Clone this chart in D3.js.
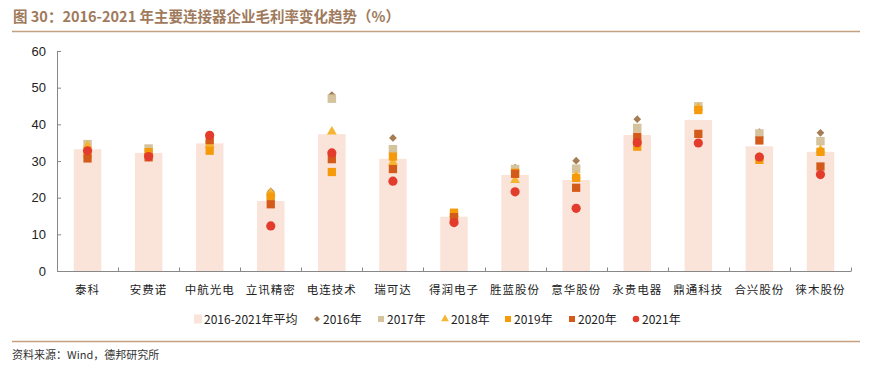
<!DOCTYPE html>
<html>
<head>
<meta charset="utf-8">
<script src="https://cdn.jsdelivr.net/npm/d3@7/dist/d3.min.js"></script>
<style>
  body { margin: 0; background: #fff; }
  text { font-family: "Liberation Sans", Arial, "Noto Sans CJK SC", sans-serif; }
  .cn { font-family: "Noto Sans CJK SC", sans-serif; }
</style>
</head>
<body>
<script>
//data
var companies = ["泰科", "安费诺", "中航光电", "立讯精密", "电连技术", "瑞可达", "得润电子",
                 "胜蓝股份", "意华股份", "永贵电器", "鼎通科技", "合兴股份", "徕木股份"];
var avg   = [33.2, 32.2, 34.8, 19.1, 37.3, 30.6, 14.8, 26.2, 24.8, 37.1, 41.2, 34.0, 32.5];
var y2016 = [34.0, 33.0, 35.5, 21.7, 48.0, 36.3, 15.0, 28.2, 30.1, 41.4, 44.6, 37.9, 37.7];
var y2017 = [34.6, 33.4, 34.6, 20.5, 47.0, 33.2, 15.3, 27.8, 27.9, 39.0, 44.9, 37.5, 35.4];
var y2018 = [34.2, 32.3, 34.5, 21.3, 38.0, 29.6, 15.5, 24.8, 26.0, 36.0, 44.5, 31.0, 33.0];
var y2019 = [32.0, 32.4, 32.8, 20.3, 27.0, 31.2, 15.9, 26.8, 25.4, 33.9, 43.9, 30.3, 32.5];
var y2020 = [30.7, 31.0, 35.7, 18.2, 30.5, 27.8, 14.7, 26.5, 22.7, 36.6, 37.4, 35.6, 28.5];
var y2021 = [32.8, 31.2, 37.0, 12.3, 32.2, 24.5, 13.2, 21.6, 17.1, 35.0, 34.9, 31.1, 26.3];
var yTicks = [0, 10, 20, 30, 40, 50, 60];

var W = 894, H = 375;
var plotL = 57, plotR = 851, plotT = 51, plotB = 271;

var svg = d3.select("body").append("svg")
    .attr("width", W)
    .attr("height", H);

//title and rules
svg.append("text")
    .attr("class", "cn")
    .attr("x", 13)
    .attr("y", 22)
    .style("font-size", "14.5px")
    .style("font-weight", "bold")
    .style("fill", "#A07A5C")
    .text("图 30：2016-2021 年主要连接器企业毛利率变化趋势（%）");

svg.append("line")
    .attr("x1", 12).attr("x2", 860)
    .attr("y1", 31.5).attr("y2", 31.5)
    .style("stroke", "#C4A081")
    .style("stroke-width", 1.5);

svg.append("line")
    .attr("x1", 12).attr("x2", 860)
    .attr("y1", 341.5).attr("y2", 341.5)
    .style("stroke", "#C4A081")
    .style("stroke-width", 1.5);

svg.append("text")
    .attr("class", "cn")
    .attr("x", 12)
    .attr("y", 359)
    .style("font-size", "11px")
    .style("fill", "#333")
    .text("资料来源：Wind，德邦研究所");

//scales
var x = d3.scaleBand()
    .domain(companies)
    .range([plotL, plotR])
    .padding(0);

var y = d3.scaleLinear()
    .domain([0, 60])
    .range([plotB, plotT]);

var barW = x.bandwidth() * 0.45;
function cx(i){ return x(companies[i]) + x.bandwidth() / 2; }

//average bars
svg.selectAll(".bar")
    .data(avg)
    .enter()
    .append("rect")
    .attr("class", "bar")
    .attr("x", function(d, i){ return cx(i) - barW / 2; })
    .attr("y", function(d){ return y(d); })
    .attr("width", barW)
    .attr("height", function(d){ return y(0) - y(d); })
    .style("fill", "#FAE3D8");

//axes
var yAxis = d3.axisLeft(y)
    .tickValues(yTicks)
    .tickSize(-4)
    .tickPadding(11);

var gy = svg.append("g")
    .attr("transform", "translate(" + plotL + ",0)")
    .call(yAxis);
gy.selectAll("text").style("font-size", "13px").style("fill", "#222")
    .style("font-family", "'Liberation Sans', Arial, sans-serif");
gy.selectAll("line").style("stroke", "#888");
gy.select(".domain").style("stroke", "#888");

//x axis line and boundary ticks
var bounds = companies.map(function(c){ return x(c); }).concat([plotR]);
svg.append("line")
    .attr("x1", plotL).attr("x2", plotR)
    .attr("y1", plotB + 0.5).attr("y2", plotB + 0.5)
    .style("stroke", "#888");
svg.selectAll(".xtick")
    .data(bounds.slice(1))
    .enter()
    .append("line")
    .attr("x1", function(d){ return Math.round(d) + 0.5; })
    .attr("x2", function(d){ return Math.round(d) + 0.5; })
    .attr("y1", plotB + 0.5)
    .attr("y2", plotB - 3.5)
    .style("stroke", "#888");

svg.selectAll(".xlab")
    .data(companies)
    .enter()
    .append("text")
    .attr("class", "cn")
    .attr("x", function(d, i){ return cx(i); })
    .attr("y", 294)
    .attr("text-anchor", "middle")
    .style("font-size", "11.5px")
    .style("letter-spacing", "1px")
    .style("fill", "#222")
    .text(function(d){ return d; });

//series markers (diamond = square turned 45 degrees)
var series = [
    {name: "2016年", vals: y2016, shape: d3.symbolSquare, size: 30, rot: 45, color: "#A67C52"},
    {name: "2017年", vals: y2017, shape: d3.symbolSquare, size: 72, rot: 0, color: "#D5C39E"},
    {name: "2018年", vals: y2018, shape: d3.symbolTriangle, size: 42, rot: 0, color: "#F5B431"},
    {name: "2019年", vals: y2019, shape: d3.symbolSquare, size: 68, rot: 0, color: "#F59A0A"},
    {name: "2020年", vals: y2020, shape: d3.symbolSquare, size: 68, rot: 0, color: "#D45A1A"},
    {name: "2021年", vals: y2021, shape: d3.symbolCircle, size: 66, rot: 0, color: "#E33B2C"}
];

series.forEach(function(s){
    var sym = d3.symbol().type(s.shape).size(s.size);
    svg.selectAll(null)
        .data(s.vals)
        .enter()
        .append("path")
        .attr("d", sym)
        .attr("transform", function(d, i){
            return "translate(" + cx(i) + "," + y(d) + ") rotate(" + s.rot + ")";
        })
        .style("fill", s.color);
});

//legend
var legY = 319;
var leg = svg.append("g");
leg.append("rect")
    .attr("x", 194).attr("y", legY - 4.5)
    .attr("width", 8).attr("height", 9)
    .style("fill", "#FAE3D8");
leg.append("text")
    .attr("class", "cn")
    .attr("x", 204).attr("y", legY + 4.5)
    .style("font-size", "12px")
    .style("fill", "#222")
    .text("2016-2021年平均");

var legX = [317, 381, 445, 508, 572, 636];
var legSize = [18, 36, 26, 36, 36, 34];
series.forEach(function(s, i){
    leg.append("path")
        .attr("d", d3.symbol().type(s.shape).size(legSize[i]))
        .attr("transform", "translate(" + legX[i] + "," + legY + ") rotate(" + s.rot + ")")
        .style("fill", s.color);
    leg.append("text")
        .attr("class", "cn")
        .attr("x", legX[i] + 6).attr("y", legY + 4.5)
        .style("font-size", "12px")
        .style("fill", "#222")
        .text(s.name);
});
</script>
</body>
</html>
